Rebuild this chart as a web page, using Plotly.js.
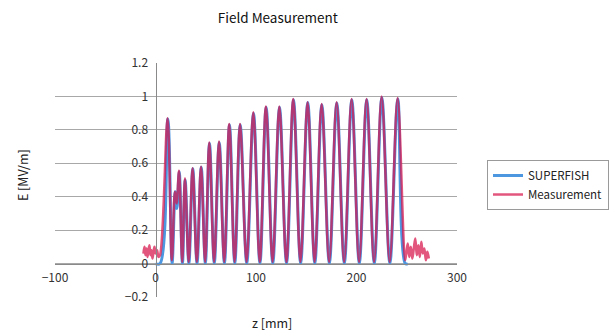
<!DOCTYPE html>
<html>
<head>
<meta charset="utf-8">
<script src="https://cdn.plot.ly/plotly-3.0.1.min.js"></script>
<style>html,body{margin:0;padding:0;background:#fff;}#chart{width:616px;height:333px;}</style>
</head>
<body>
<div id="chart"></div>
<script>
// SUPERFISH simulation: z [mm], E [MV/m] (peaks and zeros)
const sfZ = [0, 4.5, 12.3, 16.5, 19.6, 21.3, 23.6, 26.8, 29.5, 33.2, 37.1, 41.3, 45.5, 49.6, 53.7, 58.5,
  63.4, 68.6, 73.6, 78.9, 84.3, 90.8, 97.5, 103.9, 110.1, 116.7, 123.4, 130.4, 137.3, 144.4,
  151.5, 158.5, 165.5, 173.0, 180.4, 187.9, 195.3, 202.8, 210.2, 217.7, 225.2, 233.2, 241.1, 248.5, 251];
const sfE = [0, 0, 0.865, 0, 0.43, 0.33, 0.55, 0, 0.50, 0, 0.567, 0, 0.577, 0, 0.72, 0,
  0.724, 0, 0.83, 0, 0.83, 0, 0.90, 0, 0.935, 0, 0.935, 0, 0.98, 0,
  0.963, 0, 0.95, 0, 0.96, 0, 0.98, 0, 0.98, 0, 0.993, 0, 0.985, 0, 0];

// Measurement: z [mm], E [MV/m]
const msZ = [-12, -11, -10, -9, -8, -7, -6, -5, -4, -3, -2, -1, 0, 1.5, 3, 4.5,
  12.0, 16.3, 19.3, 21.0, 23.4, 26.6, 29.3, 33.0, 36.9, 41.1, 45.3, 49.4, 53.5, 58.3,
  63.2, 68.4, 73.4, 78.7, 84.1, 90.6, 97.3, 103.7, 109.9, 116.5, 123.2, 130.2, 137.1, 144.2,
  151.3, 158.3, 165.3, 172.8, 180.2, 187.7, 195.1, 202.6, 210.0, 217.5, 225.0, 233.0, 240.9, 248.3,
  249.5, 251, 252.5, 254, 255.5, 257, 258.5, 260, 261.5, 263, 264.5, 266, 267.5, 269, 270.5, 272];
const msE = [0.06, 0.10, 0.05, 0.09, 0.04, 0.08, 0.11, 0.05, 0.08, 0.03, 0.07, 0.10, 0.06, 0.08, 0.04, 0.05,
  0.87, 0.02, 0.43, 0.36, 0.555, 0.01, 0.51, 0.01, 0.57, 0.01, 0.58, 0.01, 0.725, 0.01,
  0.73, 0.01, 0.835, 0.01, 0.835, 0.01, 0.905, 0.01, 0.94, 0.01, 0.94, 0.01, 0.985, 0.01,
  0.965, 0.01, 0.955, 0.01, 0.965, 0.01, 0.985, 0.01, 0.985, 0.01, 1.0, 0.01, 0.99, 0.02,
  0.06, 0.12, 0.04, 0.10, 0.03, 0.09, 0.15, 0.05, 0.11, 0.04, 0.13, 0.06, 0.09, 0.02, 0.07, 0.03];

const seriesNames = ['SUPERFISH', 'Measurement'];
const chartTitle = 'Field Measurement';
const xTitle = 'z [mm]';
const yTitle = 'E [MV/m]';

const font = 'Noto Sans CJK JP, Noto Sans, sans-serif';

const traces = [
  {x: sfZ, y: sfE, name: seriesNames[0], type: 'scatter', mode: 'lines',
   line: {color: '#4d96e0', width: 3, shape: 'spline', smoothing: 1}},
  {x: msZ, y: msE, name: seriesNames[1], type: 'scatter', mode: 'lines',
   line: {color: 'rgba(215,20,75,0.72)', width: 2.5, shape: 'spline', smoothing: 1}}
];

const layout = {
  width: 616, height: 333,
  margin: {l: 55, r: 159, t: 63, b: 36, autoexpand: false},
  paper_bgcolor: '#fff', plot_bgcolor: '#fff',
  font: {family: font, size: 12, color: '#333'},
  showlegend: true,
  title: {text: chartTitle, xref: 'container', yref: 'container', x: 0.451, y: 0.946,
          xanchor: 'center', yanchor: 'middle', font: {family: font, size: 13.5, color: '#111'}},
  xaxis: {range: [-100, 300], tick0: 0, dtick: 100, showgrid: false, zeroline: false,
          showline: true, linecolor: '#8a8a8a', linewidth: 1, anchor: 'free', position: 0.2/1.4,
          ticks: '', tickfont: {family: font, size: 12, color: '#333'}, ticklabelstandoff: 3},
  yaxis: {range: [-0.2, 1.2], tick0: 0, dtick: 0.2, showgrid: true, gridcolor: '#a8a8a8', gridwidth: 1,
          zeroline: false, showline: true, linecolor: '#8a8a8a', linewidth: 1, anchor: 'free', position: 0.25,
          ticks: '', tickfont: {family: font, size: 12, color: '#333'}, ticklabelstandoff: 5},
  legend: {xref: 'container', yref: 'container', x: 0.7906, y: 0.5195, xanchor: 'left', yanchor: 'top',
           bordercolor: '#9a9a9a', borderwidth: 1,
           bgcolor: '#fff', itemwidth: 30, tracegroupgap: 0, font: {family: font, size: 11.5, color: '#222'}},
  annotations: [
    {text: yTitle, xref: 'paper', yref: 'paper', x: -0.0821, y: 0.521, showarrow: false, textangle: -90,
     xanchor: 'center', yanchor: 'middle', font: {family: font, size: 12.5, color: '#222'}},
    {text: xTitle, xref: 'paper', yref: 'paper', x: 0.5398, y: -0.111, showarrow: false,
     xanchor: 'center', yanchor: 'middle', font: {family: font, size: 12.5, color: '#222'}}
  ]
};

Plotly.newPlot('chart', traces, layout, {staticPlot: true, displayModeBar: false});
</script>
</body>
</html>
